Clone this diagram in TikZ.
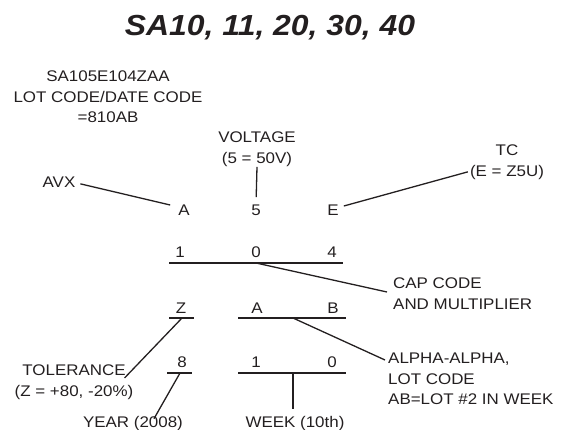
\documentclass[tikz,border=0pt]{standalone}
\usepackage{fontspec}
\setmainfont{Liberation Sans}[FakeStretch=1.1]
\usetikzlibrary{calc}
\definecolor{ink}{HTML}{231F20}
\tikzstyle{digit}=[anchor=base,inner sep=0pt,text=ink,font=\fontsize{15.4}{20.5}\selectfont]
\tikzstyle{caption}=[inner sep=0pt,align=center,text=ink,font=\fontsize{15.4}{20.5}\selectfont]
\tikzstyle{heading}=[anchor=base,inner sep=0pt,text=ink,font=\fontsize{29}{34}\selectfont\bfseries\itshape]
\tikzstyle{bar} = [draw=ink,line width=1.4pt]
\tikzstyle{lead} = [draw=ink,line width=1.3pt]

\begin{document}
\begin{tikzpicture}[x=1pt,y=-1pt]
    \useasboundingbox (0,0) rectangle (564,430);

    \def\ya{215};
    \def\yb{257};
    \def\yc{313};
    \def\yd{367};

    \node[heading] (title) at (270,36) {SA10, 11, 20, 30, 40};

    % part number and lot/date code
    \node[caption, anchor=north] (part) at (108,71) {SA105E104ZAA\\LOT CODE/DATE CODE\\=810AB};

    \foreach \pos/\name/\txt in {{(184,\ya)/A/A}, {(256,\ya)/five/5}, {(333,\ya)/E/E},
                                 {(180,\yb)/one/1}, {(256,\yb)/zero/0}, {(332,\yb)/four/4},
                                 {(181,\yc)/Z/Z}, {(257,\yc)/lotA/A}, {(333,\yc)/lotB/B},
                                 {(182,\yd)/eight/8}, {(256,\yd)/wka/1}, {(332,\yd)/wkb/0}}
        \node[digit] (\name) at \pos {\txt};

    % underlines, each with its tap point
    \foreach \name/\xl/\xr/\xt/\y in {cap/169/343/256/263, tol/169/194/182/318, lot/238/346/293/318,
                                      yr/167/192/180/373, wk/238/346/293/373}
    {
        \coordinate (\name l) at (\xl,\y);
        \coordinate (\name r) at (\xr,\y);
        \coordinate (\name t) at (\xt,\y);
        \path[bar] (\name l) -- (\name r);
    }

    % labels
    \node[digit] (avx) at (59,188) {AVX};
    \node[caption, anchor=north] (volt) at (257,132) {VOLTAGE\\(5 = 50V)};
    \node[caption, anchor=north] (tc) at (507,145) {TC\\(E = Z5U)};
    \node[caption, anchor=north west, align=left] (cap) at (393,278) {CAP CODE\\AND MULTIPLIER};
    \node[caption, anchor=north west, align=left] (alpha) at (388,353) {ALPHA-ALPHA,\\LOT CODE\\AB=LOT \#2 IN WEEK};
    \node[caption, anchor=north] (tolr) at (74,365) {TOLERANCE\\(Z = +80, -20\%)};
    \node[digit] (year) at (133,427) {YEAR (2008)};
    \node[digit] (week) at (295,427) {WEEK (10th)};

    % leaders
    \path[lead, shorten <=5pt] (avx.east) -- ($(A.base west)+(-8,-10)$);
    \path[lead, shorten >=7pt] (volt.south) -- (five.north);
    \path[lead] ($(E.base east)+(5,-9)$) -- ($(tc.south west)+(-2,-8)$);
    \path[lead] (capt) -- ($(cap.north west)+(-6,14)$);
    \path[lead] (lott) -- ($(alpha.north west)+(-3,7)$);
    \path[lead] (tolt) -- ($(tolr.north east)+(-9,13)$);
    \path[lead] (yrt) -- ($(year.north)+(21,3)$);
    \path[lead, shorten >=7pt] (wkt) -- (wkt |- week.north);

\end{tikzpicture}
\end{document}
